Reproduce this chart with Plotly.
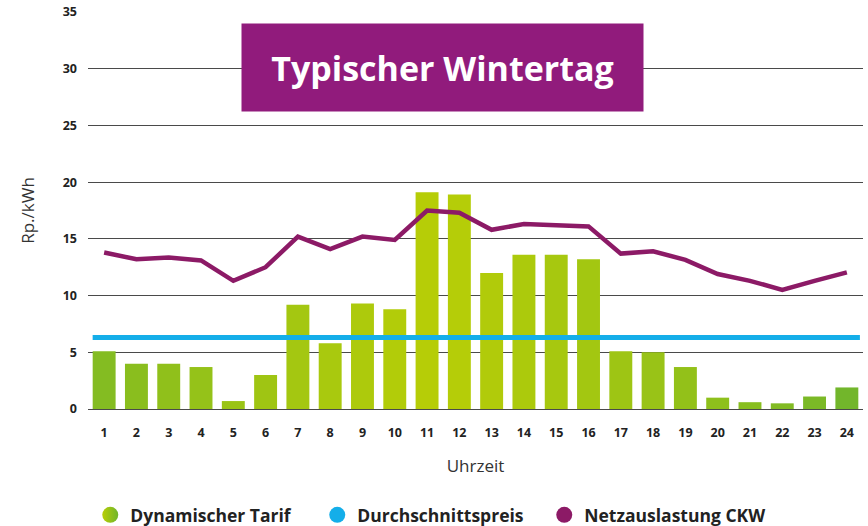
import plotly.graph_objects as go

hours = list(range(1, 25))
tarif = [5.1, 4.0, 4.0, 3.7, 0.7, 3.0, 9.2, 5.8, 9.3, 8.8, 19.1, 18.9,
         12.0, 13.6, 13.6, 13.2, 5.1, 5.0, 3.7, 1.0, 0.6, 0.5, 1.1, 1.9]
netz = [13.8, 13.2, 13.35, 13.1, 11.3, 12.5, 15.2, 14.1, 15.2, 14.9, 17.5, 17.3,
        15.8, 16.3, 16.2, 16.1, 13.7, 13.9, 13.15, 11.9, 11.3, 10.5, 11.3, 12.05]
avg_price = 6.3
y_ticks = [0, 5, 10, 15, 20, 25, 30, 35]

title_text = "Typischer Wintertag"
names = ["Dynamischer Tarif", "Durchschnittspreis", "Netzauslastung CKW"]

GREEN_EDGE = (0x72, 0xb6, 0x2b)
GREEN_MID = (0xb8, 0xce, 0x06)
BLUE = "#14aee9"
PURPLE = "#8c1a66"


def mix(t):
    c = [round(a + (b - a) * t) for a, b in zip(GREEN_EDGE, GREEN_MID)]
    return "rgb(%d,%d,%d)" % tuple(c)


n = len(hours)
bar_colors = []
for i in range(n):
    pos = i / (n - 1)
    t = 1 - abs(pos - 0.45) / 0.55
    t = max(0.0, min(1.0, t)) ** 0.8
    bar_colors.append(mix(t))

fig = go.Figure()
fig.add_trace(go.Bar(x=hours, y=tarif, marker=dict(color=bar_colors, line=dict(width=0)),
                     showlegend=False, name=names[0]))
fig.add_trace(go.Scatter(x=hours, y=netz, mode="lines",
                         line=dict(color=PURPLE, width=4.5), showlegend=False, name=names[2]))

# legend-only traces
fig.add_trace(go.Scatter(x=[None], y=[None], mode="markers", name=names[0],
                         marker=dict(symbol="circle", size=19, color="#b8ce06",
                                     gradient=dict(type="horizontal", color="#6fb52c"))))
fig.add_trace(go.Scatter(x=[None], y=[None], mode="markers", name=names[1],
                         marker=dict(symbol="circle", size=19, color=BLUE)))
fig.add_trace(go.Scatter(x=[None], y=[None], mode="markers", name=names[2],
                         marker=dict(symbol="circle", size=19, color=PURPLE)))

fig.add_shape(type="line", xref="paper", x0=0.006, x1=0.996, yref="y",
              y0=avg_price, y1=avg_price, line=dict(color=BLUE, width=5), layer="above")

fig.add_annotation(text="<b>" + title_text + "</b>", xref="paper", yref="paper",
                   x=0.4574, y=0.860, xanchor="center", yanchor="middle",
                   showarrow=False, bgcolor="#911b7c", width=401, height=87,
                   borderpad=0, font=dict(family="Open Sans", size=34, color="white"))

fig.update_layout(
    width=868, height=526,
    margin=dict(l=88, r=5, t=12, b=117, autoexpand=False),
    paper_bgcolor="white", plot_bgcolor="white",
    bargap=0.29,
    font=dict(family="Open Sans", color="#222"),
    legend=dict(orientation="h", x=0.104, y=0.021, xref="container", yref="container",
                xanchor="left", yanchor="middle",
                font=dict(family="Open Sans", size=17.5, color="#222", weight="bold"),
                entrywidth=182, entrywidthmode="pixels", itemsizing="trace",
                itemwidth=30),
    xaxis=dict(range=[0.5, 24.5], tickmode="array", tickvals=hours,
               ticktext=[str(h) for h in hours], showgrid=False, zeroline=False,
               showline=False, ticks="", ticklen=0, ticklabelstandoff=14,
               tickfont=dict(family="Open Sans", size=12.5, color="#222", weight="bold"),
               title=dict(text="Uhrzeit", font=dict(family="Open Sans", size=17, color="#333"),
                          standoff=20)),
    yaxis=dict(range=[0, 35], tickmode="array", tickvals=y_ticks,
               showgrid=True, gridcolor="#4a4a4a", gridwidth=1.3,
               zeroline=True, zerolinecolor="#4a4a4a", zerolinewidth=1.3,
               showline=False, ticks="", ticklabelstandoff=10,
               tickfont=dict(family="Open Sans", size=12.5, color="#222", weight="bold"),
               title=dict(text="Rp./kWh", font=dict(family="Open Sans", size=17, color="#333"),
                          standoff=23)),
)

fig.write_html("out.html", config={"displayModeBar": False},
               post_script="document.body.style.margin='0';document.body.style.overflow='hidden';")
